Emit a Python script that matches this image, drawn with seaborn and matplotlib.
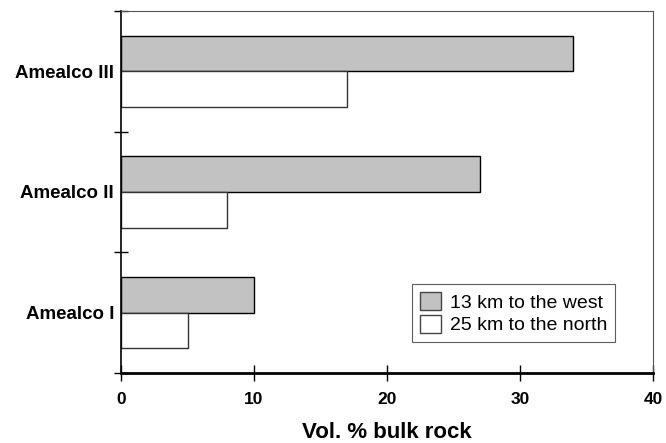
import matplotlib
matplotlib.use("Agg")
import matplotlib.pyplot as plt
import seaborn as sns
import pandas as pd
from matplotlib.patches import Patch

categories = ["Amealco III", "Amealco II", "Amealco I"]
series_names = ["13 km to the west", "25 km to the north"]
west_values = [34, 27, 10]
north_values = [17, 8, 5]
x_ticks = [0, 10, 20, 30, 40]

df = pd.DataFrame({
    "site": categories * 2,
    "value": west_values + north_values,
    "group": [series_names[0]] * 3 + [series_names[1]] * 3,
})

sns.set_style("white")
plt.rcParams["font.family"] = ["Liberation Sans", "DejaVu Sans"]
plt.rcParams["text.color"] = "black"
plt.rcParams["axes.labelcolor"] = "black"
plt.rcParams["xtick.color"] = "black"
plt.rcParams["ytick.color"] = "black"

GRAY = "#c2c2c2"

fig = plt.figure(figsize=(6.66, 4.43), dpi=100)
ax = fig.add_axes([0.1817, 0.158, 0.7988, 0.8172])

palette = {series_names[0]: GRAY, series_names[1]: "#ffffff"}
sns.barplot(data=df, x="value", y="site", hue="group", order=categories,
            hue_order=series_names, palette=palette, orient="h", width=0.59,
            edgecolor="black", linewidth=1.0, saturation=1, ax=ax, legend=False)

for bar in ax.patches:
    if bar.get_facecolor()[0] > 0.9:
        bar.set_edgecolor("#333333")

ax.set_xlim(0, 40)
ax.set_ylim(2.5, -0.5)
ax.set_xticks(x_ticks)
ax.set_xticklabels([str(t) for t in x_ticks], fontweight="bold", fontsize=12.5)
ax.set_yticks(range(len(categories)))
ax.set_yticklabels(categories, fontweight="bold", fontsize=13.5)
ax.set_yticks([-0.5, 0.5, 1.5, 2.5], minor=True)
ax.tick_params(axis="y", which="major", length=0, pad=5)
ax.tick_params(axis="y", which="minor", direction="inout", length=10, width=1, color="black", left=True)
ax.tick_params(axis="x", which="major", direction="inout", length=11, width=1, color="black", pad=8, bottom=True)
ax.set_ylabel("")
ax.set_xlabel("Vol. % bulk rock", fontweight="bold", fontsize=16, labelpad=11)

for side in ["top", "right"]:
    ax.spines[side].set_visible(True)
    ax.spines[side].set_color("#555555")
    ax.spines[side].set_linewidth(0.8)
ax.spines["left"].set_color("black")
ax.spines["left"].set_linewidth(1.2)
ax.spines["bottom"].set_color("black")
ax.spines["bottom"].set_linewidth(2.0)

handles = [Patch(facecolor=GRAY, edgecolor="#444444"),
           Patch(facecolor="white", edgecolor="#444444")]
leg = ax.legend(handles, series_names, loc="lower right", bbox_to_anchor=(0.929, 0.085),
                fontsize=14, frameon=True, fancybox=False, edgecolor="#333333",
                handlelength=1.1, handleheight=1.1, handletextpad=0.45,
                borderpad=0.4, labelspacing=0.15, borderaxespad=0)
leg.get_frame().set_linewidth(0.8)

fig.savefig("out.png", dpi=100)
